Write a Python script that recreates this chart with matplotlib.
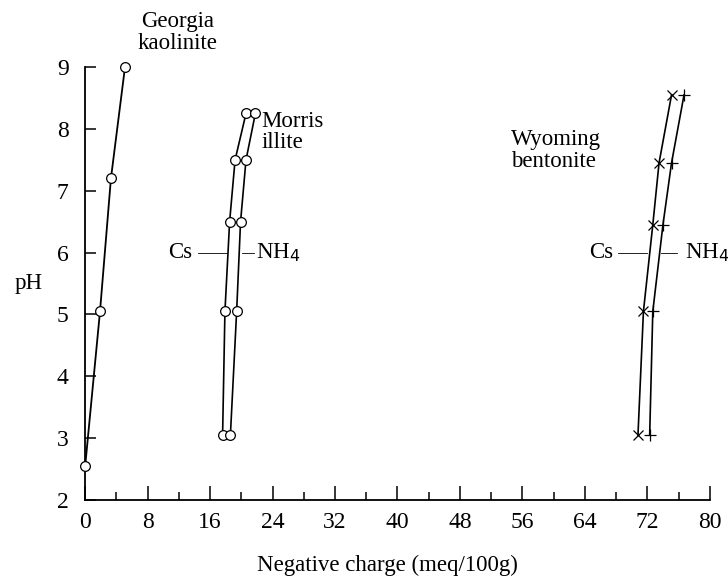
import matplotlib
matplotlib.use('Agg')
import matplotlib.pyplot as plt

plt.rcParams['font.family'] = ['Liberation Serif', 'DejaVu Serif']

# Georgia kaolinite
kao_x = [0.0, 1.9, 3.3, 5.1]
kao_ph = [2.55, 5.05, 7.2, 9.0]

# Morris illite (Cs, NH4)
ill_ph = [3.05, 5.05, 6.5, 7.5, 8.25]
ill_cs = [17.6, 17.9, 18.5, 19.2, 20.6]
ill_nh4 = [18.6, 19.4, 19.9, 20.6, 21.8]

# Wyoming bentonite (Cs, NH4)
ben_ph = [3.05, 5.05, 6.45, 7.45, 8.55]
ben_cs = [70.8, 71.5, 72.7, 73.5, 75.1]
ben_nh4 = [72.3, 72.7, 74.0, 75.1, 76.7]

xticks = list(range(0, 81, 8))
yticks = list(range(2, 10))

fig = plt.figure(figsize=(7.28, 5.78), dpi=100)
ax = fig.add_axes([0.117, 0.135, 0.858, 0.749])

ax.plot(kao_x, kao_ph, color='black', lw=1.3, marker='o', ms=7,
        mfc='white', mec='black', mew=0.9, clip_on=False, zorder=3)
ax.plot(ill_cs, ill_ph, color='black', lw=1.2, marker='o', ms=7,
        mfc='white', mec='black', mew=0.9, zorder=3)
ax.plot(ill_nh4, ill_ph, color='black', lw=1.2, marker='o', ms=7,
        mfc='white', mec='black', mew=0.9, zorder=3)
ax.plot(ben_cs, ben_ph, color='black', lw=1.2, marker='x', ms=7,
        mew=0.9, zorder=3)
ax.plot(ben_nh4, ben_ph, color='black', lw=1.2, marker='+', ms=9,
        mew=0.9, zorder=3)

# Cs / NH4 annotations
fs = 16.5
ax.plot([14.4, 18.2], [6.0, 6.0], color='black', lw=0.6)
ax.plot([20.1, 21.6], [6.0, 6.0], color='black', lw=0.6)
ax.text(13.7, 6.0, 'Cs', ha='right', va='center', fontsize=fs)
ax.text(21.9, 6.0, r'NH$_4$', ha='left', va='center', fontsize=fs)

ax.plot([68.2, 72.0], [6.0, 6.0], color='black', lw=0.6)
ax.plot([73.8, 75.8], [6.0, 6.0], color='black', lw=0.6)
ax.text(67.6, 6.0, 'Cs', ha='right', va='center', fontsize=fs)
ax.text(76.8, 6.0, r'NH$_4$', ha='left', va='center', fontsize=fs)

ax.text(11.8, 9.56, 'Georgia\nkaolinite', ha='center', va='center',
        fontsize=fs, linespacing=1.05, clip_on=False)
ax.text(22.6, 7.95, 'Morris\nillite', ha='left', va='center',
        fontsize=fs, linespacing=1.05)
ax.text(54.6, 7.65, 'Wyoming\nbentonite', ha='left', va='center',
        fontsize=fs, linespacing=1.05)

ax.set_xlim(0, 80)
ax.set_ylim(2, 9)
ax.spines['top'].set_visible(False)
ax.spines['right'].set_visible(False)
ax.spines['left'].set_linewidth(1.3)
ax.spines['bottom'].set_linewidth(1.3)

ax.set_xticks(xticks)
ax.set_xticks(list(range(4, 80, 8)), minor=True)
ax.set_yticks(yticks)
ax.tick_params(axis='x', which='major', direction='in', length=10, width=1.1,
               labelsize=17, pad=9)
ax.tick_params(axis='x', which='minor', direction='in', length=6, width=1.1)
ax.tick_params(axis='y', direction='in', length=8, width=1.1,
               labelsize=17, pad=12)

ax.set_xlabel('Negative charge (meq/100g)', fontsize=fs, va='center')
ax.xaxis.set_label_coords(0.484, -0.15)
ax.set_ylabel('pH', fontsize=fs, rotation=0, va='center', ha='center')
ax.yaxis.set_label_coords(-0.091, 0.5)

fig.savefig('out.png', dpi=100)
